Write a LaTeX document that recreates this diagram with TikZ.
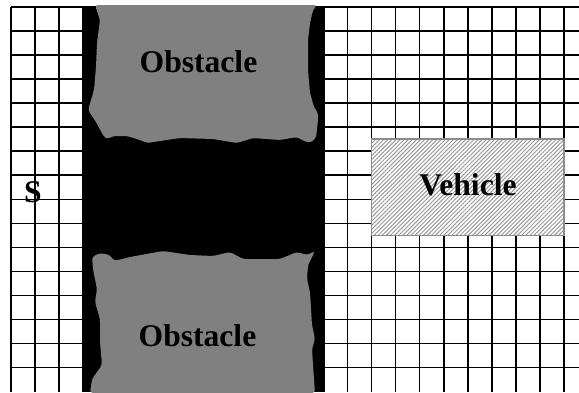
\documentclass[tikz,border=0pt]{standalone}
\usepackage{fontspec}
\setmainfont{Liberation Serif}
\usetikzlibrary{patterns.meta}
\definecolor{obstgray}{HTML}{808080}
\definecolor{vehgray}{HTML}{8C8C8C}
\definecolor{hatchgray}{HTML}{999999}
\begin{document}
\begin{tikzpicture}[x=0.5pt,y=-0.5pt,
  gridline/.style={line width=0.8pt,black},
  obstacle/.style={fill=obstgray,draw=none},
  labeltext/.style={font=\fontsize{15.8}{18}\selectfont\bfseries,text=black,inner sep=0pt,anchor=base},
  vehiclebox/.style={draw=vehgray,line width=0.75pt,fill=white},
  hatch/.style={pattern={Lines[angle=45,distance=1.45pt,line width=0.5pt]},pattern color=hatchgray}]
\useasboundingbox (0,0) rectangle (579,392);
\begin{scope}
\clip (0,0) rectangle (579,392);
% grid
\foreach \k in {0,...,23} {
  \draw[gridline] ({11+24.04*\k},7) -- ({11+24.04*\k},392);
}
\foreach \k in {0,...,15} {
  \draw[gridline] (11,{7+24.04*\k}) -- (579,{7+24.04*\k});
}
% black band
\fill[black] (83,7) rectangle (325,392);
% top obstacle
\fill[obstacle,rounded corners=1.5pt] (95,5) -- (100,20) -- (97,43) -- (96,67) -- (94,90) -- (88,110)
  -- (96,122) -- (104,137) -- (108,139) -- (113,136) -- (127,136) -- (140,140) -- (147,143)
  -- (180,138) -- (213,139) -- (237,143) -- (253,138) -- (280,140) -- (297,137) -- (304,141)
  -- (310,143) -- (316,138) -- (318,120) -- (318,113) -- (314,107) -- (310,93) -- (308,70)
  -- (308,40) -- (310,23) -- (313,10) -- (317,5) -- cycle;
% bottom obstacle
\fill[obstacle,rounded corners=1.5pt] (92,257) -- (100,253) -- (110,255) -- (114,261) -- (130,257)
  -- (163,251) -- (190,255) -- (213,256) -- (230,252) -- (243,259) -- (280,259) -- (297,252)
  -- (307,255) -- (315,251) -- (308,265) -- (307,279) -- (310,292) -- (312,325) -- (315,339)
  -- (312,349) -- (313,365) -- (315,393) -- (90,393) -- (92,379) -- (102,365) -- (100,342)
  -- (100,319) -- (95,302) -- (97,289) -- (93,269) -- cycle;
\end{scope}
% vehicle
\path[vehiclebox] (371.6,139.2) rectangle (564,235.4);
\path[hatch] (371.6,139.2) rectangle (564,235.4);
\draw[draw=vehgray,line width=0.75pt] (371.6,139.2) rectangle (564,235.4);
% labels
\node[labeltext] (obsttop) at (198.5,72) {Obstacle};
\node[labeltext] (obstbot) at (197.5,346) {Obstacle};
\node[labeltext] (vehicle) at (468,195) {Vehicle};
\node[labeltext] (start) at (33,202) {S};
\end{tikzpicture}
\end{document}
